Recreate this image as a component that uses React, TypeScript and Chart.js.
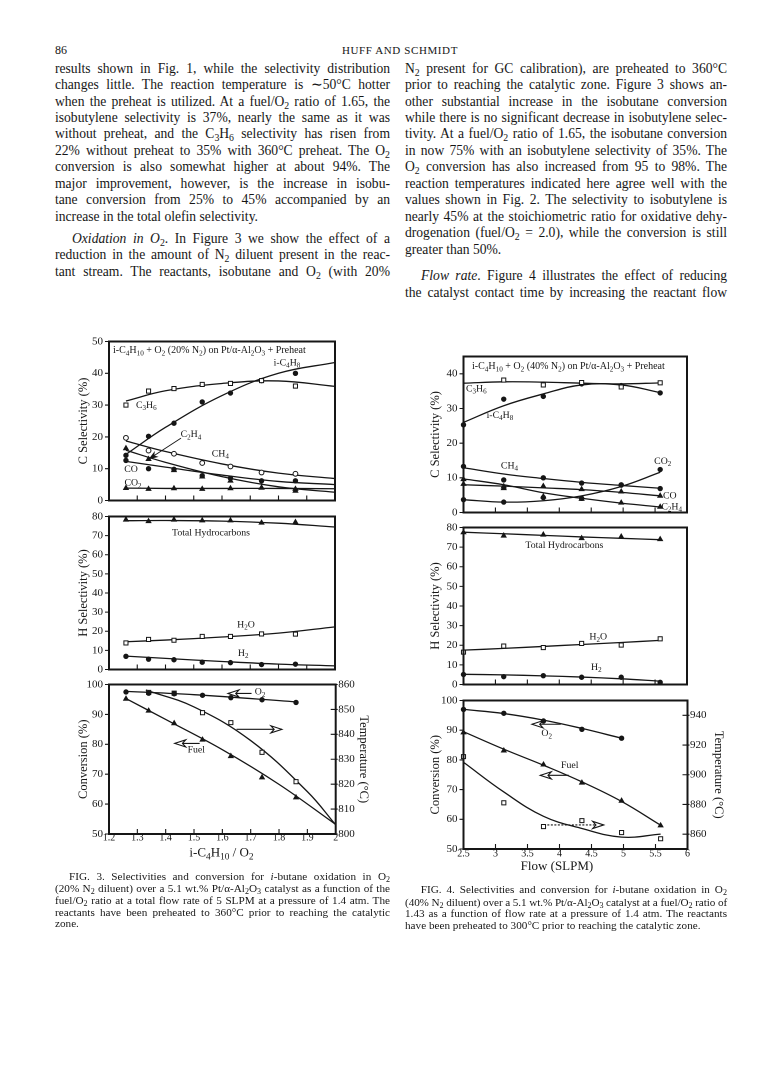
import React, { useEffect, useLayoutEffect, useRef } from 'react';
import { Chart, registerables } from 'chart.js';

Chart.register(...registerables);

const SERIF = '"Liberation Serif", "Times New Roman", serif';
const INK = '#161616';

// ---------------- Figure 3 (fuel/O2 ratio) ----------------
const f3X = [1.26, 1.34, 1.43, 1.53, 1.63, 1.74, 1.86];
const f3FitX = [1.26, 1.4, 1.6, 1.8, 2.0];
const f3XTicks = [1.2, 1.3, 1.4, 1.5, 1.6, 1.7, 1.8, 1.9, 2.0];
const f3CTicks = [0, 10, 20, 30, 40, 50];
const hTicks = [0, 10, 20, 30, 40, 50, 60, 70, 80];
const convTicks = [50, 60, 70, 80, 90, 100];
const f3TempTicks = [800, 810, 820, 830, 840, 850, 860];

const f3C3H6 = [30.0, 34.4, 35.2, 36.5, 36.8, 37.7, 36.0];
const f3C3H6Fit = [31.3, 34.5, 36.8, 37.6, 35.9];
const f3IC4H8 = [14.2, 20.2, 24.3, 31.0, 33.8, 37.7, 40.0];
const f3IC4H8Fit = [14.5, 23.0, 33.0, 40.0, 43.4];
const f3CH4 = [19.7, 15.7, 14.7, 11.8, 10.7, 8.8, 8.4];
const f3CH4Fit = [18.7, 15.4, 11.5, 8.6, 6.9];
const f3C2H4 = [16.4, 13.0, 9.5, 7.5, 6.2, 4.0, 3.0];
const f3C2H4Fit = [15.8, 12.0, 7.5, 4.3, 2.6];
const f3CO = [12.6, 10.0, 9.8, 7.8, 7.0, 6.2, 6.2];
const f3COFit = [12.3, 10.5, 8.0, 6.0, 5.0];
const f3CO2 = [3.9, 3.6, 3.8, 3.6, 3.8, 4.0, 3.6];
const f3CO2Fit = [3.9, 3.8, 3.8, 3.8, 3.7];

const f3THC = [78.3, 77.5, 78.3, 77.9, 77.9, 76.7, 77.0];
const f3THCFit = [77.8, 77.9, 77.6, 76.5, 74.5];
const f3H2O = [13.9, 15.7, 15.3, 17.3, 17.3, 18.6, 18.5];
const f3H2OFit = [14.5, 15.4, 17.0, 19.0, 22.3];
const f3H2 = [6.9, 5.4, 5.1, 3.8, 3.6, 2.6, 2.8];
const f3H2Fit = [7.0, 5.8, 4.2, 2.8, 1.9];

const f3O2 = [97.5, 97.1, 96.9, 96.4, 95.6, 94.9, 94.0];
const f3O2FitX = [1.26, 1.5, 1.86];
const f3O2Fit = [97.7, 96.6, 94.2];
const f3Fuel = [95.2, 91.2, 87.0, 81.5, 76.0, 68.9, 62.2];
const f3FuelFit = [95.3, 88.3, 78.2, 66.6, 53.2];
const f3TempX = [1.34, 1.43, 1.53, 1.63, 1.74, 1.86];
const f3Temp = [856.8, 856.5, 848.7, 844.7, 832.8, 821.0];
const f3TempFitX = [1.33, 1.5, 1.7, 1.9, 2.0];
const f3TempFit = [857.8, 851.0, 837.5, 817.0, 803.7];

// ---------------- Figure 4 (flow rate) ----------------
const f4X = [2.5, 3.13, 3.75, 4.35, 4.97, 5.58];
const f4XTicks = [2.5, 3, 3.5, 4, 4.5, 5, 5.5, 6];
const f4CTicks = [0, 10, 20, 30, 40];
const f4TempTicks = [860, 880, 900, 920, 940];

const f4C3H6X = [3.13, 3.75, 4.35, 4.97, 5.58];
const f4C3H6 = [38.2, 36.8, 37.5, 36.2, 37.4];
const f4C3H6Fit = [37.3, 37.7, 37.6, 37.3, 37.1, 37.4];
const f4IC4H8 = [25.3, 32.7, 33.5, 37.1, 36.6, 34.5];
const f4IC4H8Fit = [26.0, 30.8, 34.2, 36.8, 36.8, 34.6];
const f4CH4 = [13.3, 9.4, 10.0, 8.5, 8.0, 6.9];
const f4CH4Fit = [12.9, 11.1, 9.8, 8.7, 7.8, 7.0];
const f4CO = [8.2, 7.5, 7.6, 6.7, 6.0, 4.8];
const f4COFit = [8.0, 7.6, 7.1, 6.6, 5.8, 4.8];
const f4C2H4 = [9.6, 7.0, 4.6, 3.9, 2.8, 1.6];
const f4C2H4Fit = [9.7, 8.0, 5.7, 4.1, 2.7, 1.6];
const f4CO2 = [3.7, 3.0, 4.3, 4.1, 7.9, 12.4];
const f4CO2Fit = [3.7, 3.0, 3.4, 4.8, 7.5, 11.6];

const f4THC = [77.5, 75.8, 76.3, 74.5, 75.3, 74.0];
const f4THCFit = [77.6, 76.8, 76.0, 75.2, 74.5, 73.8];
const f4H2O = [16.5, 19.6, 18.8, 20.9, 20.1, 23.3];
const f4H2OFit = [17.5, 18.4, 19.4, 20.4, 21.4, 22.5];
const f4H2 = [5.1, 4.0, 4.5, 3.7, 3.7, 1.1];
const f4H2Fit = [5.2, 4.9, 4.4, 3.8, 2.9, 1.7];

const f4O2X = [2.5, 3.13, 3.75, 4.35, 4.97];
const f4O2 = [97.0, 95.7, 93.1, 90.3, 87.3];
const f4O2Fit = [97.0, 95.6, 93.4, 90.6, 87.3];
const f4Fuel = [89.2, 83.1, 78.4, 72.3, 66.2, 57.9];
const f4FuelFit = [89.5, 83.6, 78.2, 72.6, 66.0, 58.0];
const f4Temp = [912.2, 881.1, 865.1, 869.1, 861.1, 856.9];
const f4TempFit = [908.4, 888.4, 872.0, 863.8, 858.0, 860.0];

// ---------------- Page text ----------------
const leftLines = [
  'results shown in Fig. 1, while the selectivity distribution',
  'changes little. The reaction temperature is ∼50°C hotter',
  'when the preheat is utilized. At a fuel/O_2 ratio of 1.65, the',
  'isobutylene selectivity is 37%, nearly the same as it was',
  'without preheat, and the C_3H_6 selectivity has risen from',
  '22% without preheat to 35% with 360°C preheat. The O_2',
  'conversion is also somewhat higher at about 94%. The',
  'major improvement, however, is the increase in isobu-',
  'tane conversion from 25% to 45% accompanied by an',
  'increase in the total olefin selectivity.',
  '*Oxidation in O_2*.   In Figure 3 we show the effect of a',
  'reduction in the amount of N_2 diluent present in the reac-',
  'tant stream. The reactants, isobutane and O_2 (with 20%',
];
const leftY = [68, 84.5, 101, 117, 133.5, 150, 166.5, 183, 199.5, 216, 238, 254.5, 271];
const rightLines = [
  'N_2 present for GC calibration), are preheated to 360°C',
  'prior to reaching the catalytic zone. Figure 3 shows an-',
  'other substantial increase in the isobutane conversion',
  'while there is no significant decrease in isobutylene selec-',
  'tivity. At a fuel/O_2 ratio of 1.65, the isobutane conversion',
  'in now 75% with an isobutylene selectivity of 35%. The',
  'O_2 conversion has also increased from 95 to 98%. The',
  'reaction temperatures indicated here agree well with the',
  'values shown in Fig. 2. The selectivity to isobutylene is',
  'nearly 45% at the stoichiometric ratio for oxidative dehy-',
  'drogenation (fuel/O_2 = 2.0), while the conversion is still',
  'greater than 50%.',
  '*Flow rate*.   Figure 4 illustrates the effect of reducing',
  'the catalyst contact time by increasing the reactant flow',
];
const rightY = [68, 84.5, 101, 117, 133.5, 150, 166.5, 183, 199.5, 216, 232.5, 249, 275.5, 292];
const fig3Caption = [
  'FIG. 3.   Selectivities and conversion for *i*-butane oxidation in O_2',
  '(20% N_2 diluent) over a 5.1 wt.% Pt/α-Al_2O_3 catalyst as a function of the',
  'fuel/O_2 ratio at a total flow rate of 5 SLPM at a pressure of 1.4 atm. The',
  'reactants have been preheated to 360°C prior to reaching the catalytic',
  'zone.',
];
const fig3CapY = [876, 888, 900, 911.7, 922.7];
const fig4Caption = [
  'FIG. 4.   Selectivities and conversion for *i*-butane oxidation in O_2',
  '(40% N_2 diluent) over a 5.1 wt.% Pt/α-Al_2O_3 catalyst at a fuel/O_2 ratio of',
  '1.43 as a function of flow rate at a pressure of 1.4 atm. The reactants',
  'have been preheated to 300°C prior to reaching the catalytic zone.',
];
const fig4CapY = [889.3, 901.7, 913.3, 925];

// ---------------- helpers ----------------
type Pt = { x: number; y: number };
const pts = (xs: number[], ys: number[]): Pt[] => xs.map((x, i) => ({ x, y: ys[i] }));

type Kind = 'oSquare' | 'fCircle' | 'oCircle' | 'fTriangle';
function marks(xs: number[], ys: number[], kind: Kind, axis = 'y'): any {
  const style = kind === 'oSquare' ? 'rect' : kind === 'fTriangle' ? 'triangle' : 'circle';
  const filled = kind[0] === 'f';
  const r = kind === 'oSquare' ? 2.9 : kind === 'fTriangle' ? 2.7 : kind === 'oCircle' ? 2.4 : 2.2;
  return {
    data: pts(xs, ys), showLine: false, pointStyle: style, pointRadius: r,
    pointBorderWidth: 1, pointBackgroundColor: filled ? INK : '#fff', pointBorderColor: INK,
    borderColor: INK, backgroundColor: INK, yAxisID: axis, order: 0, clip: 6,
  };
}
function fit(xs: number[], ys: number[], axis = 'y'): any {
  return {
    data: pts(xs, ys), showLine: true, pointRadius: 0, borderColor: INK, borderWidth: 1.3,
    tension: 0.4, yAxisID: axis, order: 1, clip: 2, fill: false,
  };
}

type Seg = { t: string; sub: boolean };
function parseRich(s: string): Seg[] {
  const out: Seg[] = [];
  let buf = '';
  for (let i = 0; i < s.length; i++) {
    if (s[i] === '_') {
      if (buf) { out.push({ t: buf, sub: false }); buf = ''; }
      let j = i + 1; let d = '';
      while (j < s.length && /[0-9]/.test(s[j])) { d += s[j]; j++; }
      out.push({ t: d, sub: true });
      i = j - 1;
    } else buf += s[i];
  }
  if (buf) out.push({ t: buf, sub: false });
  return out;
}
function drawRich(ctx: CanvasRenderingContext2D, s: string, x: number, y: number, size: number, align: 'left' | 'center') {
  const segs = parseRich(s);
  const sub = size * 0.72;
  let w = 0;
  for (const g of segs) { ctx.font = `${g.sub ? sub : size}px ${SERIF}`; w += ctx.measureText(g.t).width; }
  let cx = align === 'center' ? x - w / 2 : x;
  ctx.textBaseline = 'middle';
  ctx.textAlign = 'left';
  for (const g of segs) {
    ctx.font = `${g.sub ? sub : size}px ${SERIF}`;
    ctx.fillText(g.t, cx, g.sub ? y + size * 0.3 : y);
    cx += ctx.measureText(g.t).width;
  }
}
function drawArrow(ctx: CanvasRenderingContext2D, x1: number, y1: number, x2: number, y2: number, dashed: boolean, thin: boolean) {
  ctx.save();
  ctx.lineWidth = thin ? 0.9 : 1.1;
  if (dashed) ctx.setLineDash([2, 1.5]);
  ctx.beginPath(); ctx.moveTo(x1, y1); ctx.lineTo(x2, y2); ctx.stroke();
  ctx.setLineDash([]);
  const a = Math.atan2(y2 - y1, x2 - x1);
  const L = thin ? 7 : 11, W = thin ? 2.5 : 3.6;
  const bx = x2 - L * Math.cos(a), by = y2 - L * Math.sin(a);
  ctx.beginPath();
  ctx.moveTo(x2, y2);
  ctx.lineTo(bx + W * Math.sin(a), by - W * Math.cos(a));
  ctx.lineTo(bx + 0.3 * L * Math.cos(a), by + 0.3 * L * Math.sin(a));
  ctx.lineTo(bx - W * Math.sin(a), by + W * Math.cos(a));
  ctx.closePath();
  ctx.fillStyle = thin ? INK : '#fff';
  ctx.fill(); ctx.stroke();
  ctx.restore();
}

interface TextLabel { t: string; x: number; y: number; axis?: string; size?: number }
interface ArrowSpec { x1: number; y1: number; x2: number; y2: number; axis?: string; dashed?: boolean; thin?: boolean }
interface Axis2 { min: number; max: number; ticks: number[]; title: string; w: number }
interface Panel {
  box: [number, number, number, number];
  xMin: number; xMax: number; xTicks: number[]; xLabels: boolean;
  xTitle?: string; xTitleAt?: number; xTitleDy?: number; xLabelPad?: number;
  yMin: number; yMax: number; yTicks: number[]; yTitle: string; yW: number;
  y2?: Axis2;
  datasets: any[];
  texts: TextLabel[];
  arrows: ArrowSpec[];
  heading?: string; headDx?: number; headDy?: number;
}

const fmt = (v: number) => String(Math.round(v * 10) / 10);

function drawFrame(chart: any, p: Panel) {
  const ctx: CanvasRenderingContext2D = chart.ctx;
  const a = chart.chartArea;
  const sx = chart.scales.x, sy = chart.scales.y, s2 = chart.scales.y2;
  ctx.save();
  ctx.strokeStyle = INK; ctx.fillStyle = INK;
  ctx.lineWidth = 2;
  ctx.strokeRect(a.left, a.top, a.right - a.left, a.bottom - a.top);
  ctx.lineWidth = 1.1;
  ctx.beginPath();
  p.xTicks.forEach((v) => { const px = sx.getPixelForValue(v); ctx.moveTo(px, a.bottom); ctx.lineTo(px, a.bottom - 5); });
  p.yTicks.forEach((v) => { const py = sy.getPixelForValue(v); ctx.moveTo(a.left - 4, py); ctx.lineTo(a.left, py); });
  if (p.y2 && s2) p.y2.ticks.forEach((v) => { const py = s2.getPixelForValue(v); ctx.moveTo(a.right - 5, py); ctx.lineTo(a.right + 2, py); });
  ctx.stroke();
  for (const t of p.texts) {
    const sc = chart.scales[t.axis || 'y'];
    drawRich(ctx, t.t, sx.getPixelForValue(t.x), sc.getPixelForValue(t.y), t.size || 9.8, 'center');
  }
  if (p.heading) drawRich(ctx, p.heading, a.left + (p.headDx || 4), a.top + (p.headDy || 9), 10, 'left');
  for (const r of p.arrows) {
    const sc = chart.scales[r.axis || 'y'];
    drawArrow(ctx, sx.getPixelForValue(r.x1), sc.getPixelForValue(r.y1), sx.getPixelForValue(r.x2), sc.getPixelForValue(r.y2), !!r.dashed, !!r.thin);
  }
  if (p.xTitle) drawRich(ctx, p.xTitle, sx.getPixelForValue(p.xTitleAt as number), a.bottom + (p.xTitleDy || 18), 13, 'center');
  ctx.restore();
}

function ChartPanel({ p }: { p: Panel }) {
  const ref = useRef<HTMLCanvasElement>(null);
  const B = p.xLabels ? 40 : 0;
  const R = p.y2 ? p.y2.w : 0;
  const padL = 4, padT = 10;
  const cx = p.box[0] - p.yW - padL;
  const cy = p.box[1] - padT;
  const w = Math.ceil(p.box[2] + R + 4 - cx);
  const h = Math.ceil(p.box[3] + B + 4 - cy);
  const padR = cx + w - p.box[2] - R;
  const padB = cy + h - p.box[3] - B;
  useEffect(() => {
    const tickFont = { family: SERIF, size: 11, lineHeight: 1 };
    const titleFont = { family: SERIF, size: 12.5, lineHeight: 1.2 };
    const scales: any = {
      x: {
        type: 'linear', min: p.xMin, max: p.xMax, display: p.xLabels,
        grid: { display: false, drawTicks: false }, border: { display: false },
        afterBuildTicks: (s: any) => { s.ticks = p.xTicks.map((v) => ({ value: v })); },
        afterFit: (s: any) => { s.height = B; },
        ticks: { padding: p.xLabelPad ?? 0, color: INK, font: { ...tickFont, size: 10 }, maxRotation: 0, autoSkip: false, callback: (v: any) => fmt(Number(v)) },
      },
      y: {
        type: 'linear', position: 'left', min: p.yMin, max: p.yMax,
        grid: { display: false, drawTicks: false }, border: { display: false },
        afterBuildTicks: (s: any) => { s.ticks = p.yTicks.map((v) => ({ value: v })); },
        afterFit: (s: any) => { s.width = p.yW; },
        ticks: { padding: 6, color: INK, font: tickFont, autoSkip: false, callback: (v: any) => fmt(Number(v)) },
        title: { display: true, text: p.yTitle, color: INK, font: titleFont, padding: 0 },
      },
    };
    if (p.y2) {
      const y2 = p.y2;
      scales.y2 = {
        type: 'linear', position: 'right', min: y2.min, max: y2.max,
        grid: { display: false, drawTicks: false }, border: { display: false },
        afterBuildTicks: (s: any) => { s.ticks = y2.ticks.map((v) => ({ value: v })); },
        afterFit: (s: any) => { s.width = y2.w; },
        ticks: { padding: 2.5, color: INK, font: tickFont, autoSkip: false, callback: (v: any) => fmt(Number(v)) },
        title: { display: true, text: y2.title, color: INK, font: titleFont, padding: 0 },
      };
    }
    const chart = new Chart(ref.current as HTMLCanvasElement, {
      type: 'scatter',
      data: { datasets: p.datasets },
      options: {
        responsive: false,
        animation: false,
        devicePixelRatio: 2,
        layout: { padding: { left: padL, top: padT, right: padR, bottom: padB } },
        plugins: { legend: { display: false }, tooltip: { enabled: false } },
        scales,
      } as any,
      plugins: [{ id: 'frame', afterDraw: (c: any) => drawFrame(c, p) }],
    });
    return () => chart.destroy();
  }, []);
  return (
    <canvas ref={ref} width={w} height={h}
      style={{ position: 'absolute', left: cx, top: cy, width: w, height: h }} />
  );
}

// ---------------- panels ----------------
const F3L = 109.3, F3R = 336, F4L = 463, F4R = 687;

const panels: Panel[] = [
  {
    box: [F3L, 340, F3R, 507.5], xMin: 1.2, xMax: 2.0, xTicks: f3XTicks, xLabels: false,
    yMin: 0, yMax: 50, yTicks: f3CTicks, yTitle: 'C Selectivity (%)', yW: 33,
    heading: 'i-C_4H_10 + O_2 (20% N_2) on Pt/α-Al_2O_3 + Preheat', headDx: 4, headDy: 9,
    datasets: [
      fit(f3FitX, f3C3H6Fit), marks(f3X, f3C3H6, 'oSquare'),
      fit(f3FitX, f3IC4H8Fit), marks(f3X, f3IC4H8, 'fCircle'),
      fit(f3FitX, f3CH4Fit), marks(f3X, f3CH4, 'oCircle'),
      fit(f3FitX, f3C2H4Fit), marks(f3X, f3C2H4, 'fTriangle'),
      fit(f3FitX, f3COFit), marks(f3X, f3CO, 'fCircle'),
      fit(f3FitX, f3CO2Fit), marks(f3X, f3CO2, 'fTriangle'),
    ],
    texts: [
      { t: 'i-C_4H_8', x: 1.83, y: 43.3 },
      { t: 'C_3H_6', x: 1.332, y: 29.9 },
      { t: 'C_2H_4', x: 1.49, y: 20.7 },
      { t: 'CH_4', x: 1.594, y: 14.7 },
      { t: 'CO', x: 1.278, y: 9.7 },
      { t: 'CO_2', x: 1.285, y: 5.5 },
    ],
    arrows: [{ x1: 1.455, y1: 19.6, x2: 1.344, y2: 13.2, thin: true }],
  },
  {
    box: [F3L, 515, F3R, 676.5], xMin: 1.2, xMax: 2.0, xTicks: f3XTicks, xLabels: false,
    yMin: 0, yMax: 80, yTicks: hTicks, yTitle: 'H Selectivity (%)', yW: 33,
    datasets: [
      fit(f3FitX, f3THCFit), marks(f3X, f3THC, 'fTriangle'),
      fit(f3FitX, f3H2OFit), marks(f3X, f3H2O, 'oSquare'),
      fit(f3FitX, f3H2Fit), marks(f3X, f3H2, 'fCircle'),
    ],
    texts: [
      { t: 'Total Hydrocarbons', x: 1.561, y: 71.4 },
      { t: 'H_2O', x: 1.685, y: 23.4 },
      { t: 'H_2', x: 1.675, y: 8.5 },
    ],
    arrows: [],
  },
  {
    box: [F3L, 683.3, F3R, 834.3], xMin: 1.2, xMax: 2.0, xTicks: f3XTicks, xLabels: true,
    xTitle: 'i-C_4H_10 / O_2', xTitleAt: 1.597, xTitleDy: 19, xLabelPad: -1,
    yMin: 50, yMax: 100, yTicks: convTicks, yTitle: 'Conversion (%)', yW: 33,
    y2: { min: 800, max: 860, ticks: f3TempTicks, title: 'Temperature (°C)', w: 35 },
    datasets: [
      fit(f3O2FitX, f3O2Fit), marks(f3X, f3O2, 'fCircle'),
      fit(f3FitX, f3FuelFit), marks(f3X, f3Fuel, 'fTriangle'),
      fit(f3TempFitX, f3TempFit, 'y2'), marks(f3TempX, f3Temp, 'oSquare', 'y2'),
    ],
    texts: [
      { t: 'O_2', x: 1.733, y: 97.5 },
      { t: 'Fuel', x: 1.508, y: 78.1 },
    ],
    arrows: [
      { x1: 1.703, y1: 97.0, x2: 1.62, y2: 97.0 },
      { x1: 1.65, y1: 85.0, x2: 1.81, y2: 85.0 },
      { x1: 1.52, y1: 80.3, x2: 1.432, y2: 80.3 },
    ],
  },
  {
    box: [F4L, 355, F4R, 519.3], xMin: 2.5, xMax: 6, xTicks: f4XTicks, xLabels: false,
    yMin: 0, yMax: 45, yTicks: f4CTicks, yTitle: 'C Selectivity (%)', yW: 35.5,
    heading: 'i-C_4H_10 + O_2 (40% N_2) on Pt/α-Al_2O_3 + Preheat', headDx: 8.5, headDy: 10,
    datasets: [
      fit(f4X, f4C3H6Fit), marks(f4C3H6X, f4C3H6, 'oSquare'),
      fit(f4X, f4IC4H8Fit), marks(f4X, f4IC4H8, 'fCircle'),
      fit(f4X, f4CH4Fit), marks(f4X, f4CH4, 'fCircle'),
      fit(f4X, f4COFit), marks(f4X, f4CO, 'fTriangle'),
      fit(f4X, f4C2H4Fit), marks(f4X, f4C2H4, 'fTriangle'),
      fit(f4X, f4CO2Fit), marks(f4X, f4CO2, 'fCircle'),
    ],
    texts: [
      { t: 'C_3H_6', x: 2.7, y: 35.7 },
      { t: 'i-C_4H_8', x: 3.07, y: 28.0 },
      { t: 'CH_4', x: 3.22, y: 13.5 },
      { t: 'CO_2', x: 5.62, y: 14.8 },
      { t: 'CO', x: 5.73, y: 4.8 },
      { t: 'C_2H_4', x: 5.76, y: 1.6 },
    ],
    arrows: [],
  },
  {
    box: [F4L, 526, F4R, 692], xMin: 2.5, xMax: 6, xTicks: f4XTicks, xLabels: false,
    yMin: 0, yMax: 80, yTicks: hTicks, yTitle: 'H Selectivity (%)', yW: 35.5,
    datasets: [
      fit(f4X, f4THCFit), marks(f4X, f4THC, 'fTriangle'),
      fit(f4X, f4H2OFit), marks(f4X, f4H2O, 'oSquare'),
      fit(f4X, f4H2Fit), marks(f4X, f4H2, 'fCircle'),
    ],
    texts: [
      { t: 'Total Hydrocarbons', x: 4.08, y: 70.8 },
      { t: 'H_2O', x: 4.61, y: 24.2 },
      { t: 'H_2', x: 4.58, y: 8.7 },
    ],
    arrows: [],
  },
  {
    box: [F4L, 699.3, F4R, 849.3], xMin: 2.5, xMax: 6, xTicks: f4XTicks, xLabels: true,
    xTitle: 'Flow (SLPM)', xTitleAt: 3.96, xTitleDy: 17.5, xLabelPad: 0,
    yMin: 50, yMax: 100, yTicks: convTicks, yTitle: 'Conversion (%)', yW: 35.5,
    y2: { min: 850, max: 950, ticks: f4TempTicks, title: 'Temperature (°C)', w: 38.5 },
    datasets: [
      fit(f4O2X, f4O2Fit), marks(f4O2X, f4O2, 'fCircle'),
      fit(f4X, f4FuelFit), marks(f4X, f4Fuel, 'fTriangle'),
      fit(f4X, f4TempFit, 'y2'), marks(f4X, f4Temp, 'oSquare', 'y2'),
    ],
    texts: [
      { t: 'O_2', x: 3.8, y: 88.9 },
      { t: 'Fuel', x: 4.16, y: 78.1 },
    ],
    arrows: [
      { x1: 4.02, y1: 92.0, x2: 3.57, y2: 92.0 },
      { x1: 4.145, y1: 74.8, x2: 3.7, y2: 74.8 },
      { x1: 3.81, y1: 58.1, x2: 4.69, y2: 58.1, dashed: true },
    ],
  },
];

// ---------------- HTML rich text ----------------
function richHtml(s: string): React.ReactNode[] {
  const nodes: React.ReactNode[] = [];
  let italic = false; let buf = ''; let key = 0;
  const flush = () => {
    if (buf) {
      nodes.push(italic ? <i key={key++}>{buf}</i> : <span key={key++}>{buf}</span>);
      buf = '';
    }
  };
  for (let i = 0; i < s.length; i++) {
    const c = s[i];
    if (c === '*') { flush(); italic = !italic; }
    else if (c === '_') {
      flush();
      let j = i + 1; let d = '';
      while (j < s.length && /[0-9]/.test(s[j])) { d += s[j]; j++; }
      nodes.push(<sub key={key++} style={{ fontSize: '0.72em', lineHeight: 0, verticalAlign: '-0.28em' }}>{d}</sub>);
      i = j - 1;
    } else buf += c;
  }
  flush();
  return nodes;
}

function TextLine({ x, y, w, s, size, justify }: { x: number; y: number; w: number; s: string; size: number; justify: boolean }) {
  const ref = useRef<HTMLDivElement>(null);
  const lh = Math.round(size * 1.25);
  useLayoutEffect(() => {
    const el = ref.current;
    if (!el) return;
    const inner = el.firstChild as HTMLElement;
    const nat = inner.getBoundingClientRect().width;
    if (nat > w) {
      const n = Math.max(1, s.replace(/[*_]/g, '').length);
      el.style.letterSpacing = `${-(nat - w + 0.5) / n}px`;
    }
    if (justify) {
      el.style.textAlign = 'justify';
      el.style.textAlignLast = 'justify';
    }
  }, []);
  return (
    <div ref={ref} style={{
      position: 'absolute', left: x, top: y - lh / 2, width: w, height: lh,
      fontSize: size, lineHeight: `${lh}px`, whiteSpace: 'nowrap', textAlign: 'left',
    } as React.CSSProperties}>
      <span>{richHtml(s)}</span>
    </div>
  );
}

export default function App() {
  return (
    <div style={{ position: 'absolute', left: 0, top: 0, width: 780, height: 1091, background: '#fff', overflow: 'hidden', fontFamily: SERIF, color: INK }}>
      <div style={{ position: 'absolute', left: 55, top: 42, fontSize: 12, lineHeight: '16px' }}>86</div>
      <div style={{ position: 'absolute', left: 300, width: 200, top: 42, fontSize: 11, lineHeight: '16px', textAlign: 'center', letterSpacing: 0.6 }}>HUFF AND SCHMIDT</div>
      {leftLines.map((s, i) => (
        <TextLine key={'l' + i} x={i === 10 ? 72 : 55} y={leftY[i]} w={i === 10 ? 318 : 335} s={s} size={13.6} justify={i !== 9} />
      ))}
      {rightLines.map((s, i) => (
        <TextLine key={'r' + i} x={i === 12 ? 421 : 405} y={rightY[i]} w={i === 12 ? 306 : 322} s={s} size={13.6} justify={i !== 11} />
      ))}
      {panels.map((p, i) => <ChartPanel key={'p' + i} p={p} />)}
      {fig3Caption.map((s, i) => (
        <TextLine key={'c3' + i} x={i === 0 ? 69 : 55} y={fig3CapY[i]} w={i === 0 ? 321 : 335} s={s} size={11.2} justify={i !== 4} />
      ))}
      {fig4Caption.map((s, i) => (
        <TextLine key={'c4' + i} x={i === 0 ? 420.7 : 405} y={fig4CapY[i]} w={i === 0 ? 306.3 : 322} s={s} size={11.2} justify={i !== 3} />
      ))}
    </div>
  );
}
